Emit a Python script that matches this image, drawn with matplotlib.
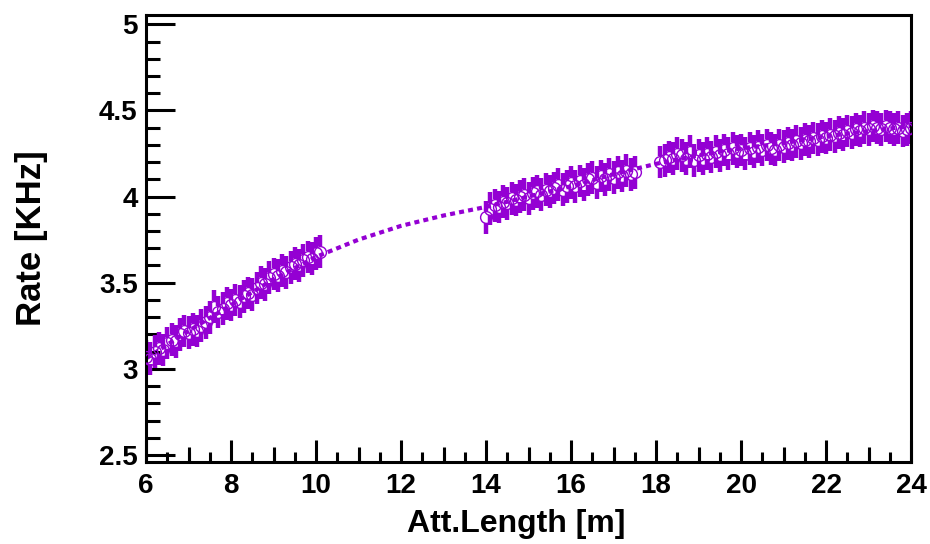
import numpy as np
import matplotlib.pyplot as plt
from matplotlib.collections import LineCollection
from matplotlib.ticker import MultipleLocator, FormatStrFormatter

plt.rcParams['font.family'] = ['Liberation Sans', 'DejaVu Sans']
plt.rcParams['font.weight'] = 'bold'

PURPLE = '#9400d3'

# measured rate vs attenuation length, three scan ranges
x_seg1 = [6.0, 6.1, 6.2, 6.3, 6.4, 6.5, 6.6, 6.7, 6.8, 6.9,
          7.0, 7.1, 7.2, 7.3, 7.4, 7.5, 7.6, 7.7, 7.8, 7.9,
          8.0, 8.1, 8.2, 8.3, 8.4, 8.5, 8.6, 8.7, 8.8, 8.9,
          9.0, 9.1, 9.2, 9.3, 9.4, 9.5, 9.6, 9.7, 9.8, 9.9,
          10.0, 10.1]
y_seg1 = [3.07, 3.06, 3.10, 3.12, 3.11, 3.15, 3.17, 3.16, 3.20, 3.22,
          3.21, 3.23, 3.22, 3.25, 3.27, 3.30, 3.36, 3.33, 3.35, 3.38,
          3.37, 3.40, 3.39, 3.42, 3.44, 3.43, 3.47, 3.50, 3.49, 3.53,
          3.55, 3.54, 3.57, 3.56, 3.59, 3.61, 3.60, 3.63, 3.65, 3.64,
          3.67, 3.68]

x_seg2 = [14.0, 14.1, 14.2, 14.3, 14.4, 14.5, 14.6, 14.7, 14.8, 14.9,
          15.0, 15.1, 15.2, 15.3, 15.4, 15.5, 15.6, 15.7, 15.8, 15.9,
          16.0, 16.1, 16.2, 16.3, 16.4, 16.5, 16.6, 16.7, 16.8, 16.9,
          17.0, 17.1, 17.2, 17.3, 17.4, 17.5]
y_seg2 = [3.88, 3.93, 3.95, 3.94, 3.97, 3.96, 3.99, 3.98, 4.00, 4.01,
          3.99, 4.02, 4.03, 4.01, 4.04, 4.03, 4.05, 4.07, 4.04, 4.06,
          4.08, 4.06, 4.09, 4.07, 4.10, 4.11, 4.08, 4.12, 4.10, 4.13,
          4.11, 4.14, 4.12, 4.15, 4.13, 4.14]

x_seg3 = [18.1, 18.2, 18.3, 18.4, 18.5, 18.6, 18.7, 18.8, 18.9, 19.0,
          19.1, 19.2, 19.3, 19.4, 19.5, 19.6, 19.7, 19.8, 19.9, 20.0,
          20.1, 20.2, 20.3, 20.4, 20.5, 20.6, 20.7, 20.8, 20.9, 21.0,
          21.1, 21.2, 21.3, 21.4, 21.5, 21.6, 21.7, 21.8, 21.9, 22.0,
          22.1, 22.2, 22.3, 22.4, 22.5, 22.6, 22.7, 22.8, 22.9, 23.0,
          23.1, 23.2, 23.3, 23.4, 23.5, 23.6, 23.7, 23.8, 23.9, 24.0]
y_seg3 = [4.20, 4.21, 4.23, 4.22, 4.25, 4.24, 4.22, 4.26, 4.21, 4.24,
          4.22, 4.25, 4.23, 4.26, 4.24, 4.27, 4.25, 4.28, 4.26, 4.27,
          4.25, 4.28, 4.26, 4.29, 4.27, 4.30, 4.28, 4.27, 4.30, 4.29,
          4.31, 4.30, 4.32, 4.31, 4.33, 4.32, 4.34, 4.33, 4.35, 4.34,
          4.36, 4.35, 4.37, 4.36, 4.38, 4.37, 4.39, 4.38, 4.40, 4.39,
          4.41, 4.40, 4.39, 4.41, 4.40, 4.39, 4.40, 4.38, 4.39, 4.40]

y_err = 0.095

fit_x = [6, 7, 8, 9, 10, 11, 12, 13, 14, 15,
         16, 17, 18, 19, 20, 21, 22, 23, 24]
fit_y = [3.06, 3.22, 3.37, 3.52, 3.65, 3.75, 3.83, 3.89, 3.94, 4.00,
         4.06, 4.13, 4.19, 4.24, 4.28, 4.31, 4.35, 4.38, 4.41]

fig = plt.figure(figsize=(9.3, 5.44), dpi=100)
ax = fig.add_axes([0.157, 0.151, 0.8226, 0.8217])
ax.set_xlim(6, 24)
ax.set_ylim(2.46, 5.055)

ax.plot(fit_x, fit_y, color=PURPLE, lw=3, dashes=(1.2, 1.0), zorder=1)

# ROOT style: error bar is not drawn inside the open marker
marker_ms = 8.5
ax_h_px = fig.get_figheight() * fig.dpi * 0.8217
gap = (marker_ms / 72 * fig.dpi / 2) / (ax_h_px / (5.055 - 2.46))


def draw_points(xs, ys, err):
    segs = []
    for xi, yi in zip(xs, ys):
        segs.append([(xi, yi - err), (xi, yi - gap)])
        segs.append([(xi, yi + gap), (xi, yi + err)])
    ax.add_collection(LineCollection(segs, colors=PURPLE, linewidths=3.2,
                                     capstyle='butt', zorder=2))
    ax.plot(xs, ys, 'o', mfc='none', mec=PURPLE, ms=marker_ms, mew=1.0,
            zorder=3)


draw_points(x_seg1, y_seg1, y_err)
draw_points(x_seg2, y_seg2, y_err)
draw_points(x_seg3, y_seg3, y_err)

# axes / ticks
for s in ax.spines.values():
    s.set_linewidth(2.2)
ax.set_xticks(np.arange(6, 25, 2))
ax.xaxis.set_minor_locator(MultipleLocator(0.5))
ax.set_yticks(np.arange(2.5, 5.01, 0.5))
ax.yaxis.set_minor_locator(MultipleLocator(0.1))
ax.yaxis.set_major_formatter(FormatStrFormatter('%g'))
ax.tick_params(which='both', direction='in', top=False, right=False,
               labelsize=20, width=2.2)
ax.tick_params(axis='x', which='major', length=16, pad=8)
ax.tick_params(axis='x', which='minor', length=7)
ax.tick_params(axis='y', which='major', length=21, pad=6)
ax.tick_params(axis='y', which='minor', length=10)

sec = ax.secondary_xaxis('bottom')
sec.set_xticks(np.arange(7, 24, 2))
sec.tick_params(direction='in', length=11, width=2.2, labelbottom=False)
sec.spines['bottom'].set_visible(False)

ax.set_xlabel('Att.Length [m]', fontsize=23, fontweight='bold')
ax.set_ylabel('Rate [KHz]', fontsize=25, fontweight='bold')
ax.xaxis.set_label_coords(0.484, -0.105)
ax.yaxis.set_label_coords(-0.128, 0.5)

fig.savefig('out.png', dpi=100)
